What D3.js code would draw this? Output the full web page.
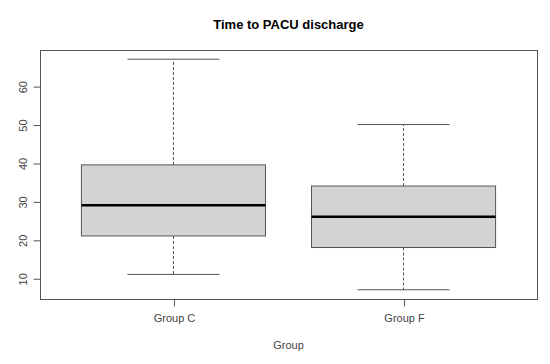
<!DOCTYPE html>
<html>
<head>
<meta charset="utf-8">
<script src="https://cdn.jsdelivr.net/npm/d3@7"></script>
<style>
  body { margin: 0; background: #fff; }
  text { font-family: "Liberation Sans", Arial, sans-serif; }
</style>
</head>
<body>
<div id="chart"></div>
<script>
// boxplot, time to PACU discharge

const width = 550
const height = 364
const margin = { top: 50, right: 13, bottom: 65, left: 40 }

// data
const groups = ['Group C', 'Group F']
const lowerWhisker = [11, 7]
const q1 = [21, 18]
const median = [29, 26]
const q3 = [39.5, 34]
const upperWhisker = [67, 50]
const yTicks = [10, 20, 30, 40, 50, 60]

const boxes = groups.map((g, i) => ({
  name: g,
  pos: i + 1,
  lo: lowerWhisker[i],
  q1: q1[i],
  med: median[i],
  q3: q3[i],
  hi: upperWhisker[i]
}))

const svg = d3.select('#chart').append('svg')
  .attr('width', width)
  .attr('height', height)

const x0 = margin.left
const x1 = width - margin.right
const y0 = height - margin.bottom
const y1 = margin.top

// R style 4% extension of the range
const ymin = d3.min(lowerWhisker)
const ymax = d3.max(upperWhisker)
const ext = (ymax - ymin) * 0.04
const y = d3.scaleLinear().domain([ymin - ext, ymax + ext]).range([y0, y1])
const x = d3.scaleLinear().domain([0.42, 2.58]).range([x0, x1])

const boxW = x(1.4) - x(1) // half of box width
const capW = boxW / 2

const axisColor = '#555'

const g = svg.append('g')

// whiskers
g.selectAll('line.whisk-up')
  .data(boxes)
  .join('line')
  .attr('x1', d => x(d.pos)).attr('x2', d => x(d.pos))
  .attr('y1', d => y(d.q3)).attr('y2', d => y(d.hi))
  .attr('stroke', '#555').attr('stroke-dasharray', '3,2')
g.selectAll('line.whisk-dn')
  .data(boxes)
  .join('line')
  .attr('x1', d => x(d.pos)).attr('x2', d => x(d.pos))
  .attr('y1', d => y(d.q1)).attr('y2', d => y(d.lo))
  .attr('stroke', '#555').attr('stroke-dasharray', '3,2')

// caps
g.selectAll('line.cap-hi')
  .data(boxes)
  .join('line')
  .attr('x1', d => x(d.pos) - capW).attr('x2', d => x(d.pos) + capW)
  .attr('y1', d => y(d.hi)).attr('y2', d => y(d.hi))
  .attr('stroke', '#555')
g.selectAll('line.cap-lo')
  .data(boxes)
  .join('line')
  .attr('x1', d => x(d.pos) - capW).attr('x2', d => x(d.pos) + capW)
  .attr('y1', d => y(d.lo)).attr('y2', d => y(d.lo))
  .attr('stroke', '#555')

// boxes
g.selectAll('rect.box')
  .data(boxes)
  .join('rect')
  .attr('x', d => x(d.pos) - boxW)
  .attr('width', boxW * 2)
  .attr('y', d => y(d.q3))
  .attr('height', d => y(d.q1) - y(d.q3))
  .attr('fill', '#d3d3d3')
  .attr('stroke', '#555')

// medians
g.selectAll('line.med')
  .data(boxes)
  .join('line')
  .attr('x1', d => x(d.pos) - boxW).attr('x2', d => x(d.pos) + boxW)
  .attr('y1', d => y(d.med)).attr('y2', d => y(d.med))
  .attr('stroke', '#000').attr('stroke-width', 2.5)

// frame
svg.append('rect')
  .attr('x', x0 + 0.5).attr('y', y1 + 0.5)
  .attr('width', x1 - x0).attr('height', y0 - y1)
  .attr('fill', 'none').attr('stroke', axisColor)

// y axis
const yAxis = svg.append('g')
  .attr('transform', 'translate(' + (x0 + 0.5) + ',0.5)')
  .call(d3.axisLeft(y).tickValues(yTicks).tickSize(7).tickPadding(5))
yAxis.select('.domain')
  .attr('d', 'M0,' + y(yTicks[0]) + 'V' + y(yTicks[yTicks.length - 1]))
yAxis.selectAll('line, path').attr('stroke', axisColor)
yAxis.selectAll('text')
  .attr('fill', '#444')
  .style('font-size', '11px')
  .attr('text-anchor', 'middle')
  .attr('transform', 'rotate(-90)')
  .attr('x', 0)
  .attr('y', -14)
  .attr('dy', '0')

// x axis
const xAxis = svg.append('g')
  .attr('transform', 'translate(0.5,' + (y0 + 0.5) + ')')
  .call(d3.axisBottom(x).tickValues([1, 2]).tickFormat((d, i) => groups[i]).tickSize(7).tickPadding(8))
xAxis.select('.domain').remove()
xAxis.selectAll('line').attr('stroke', axisColor)
xAxis.selectAll('text').attr('fill', '#444').style('font-size', '11px')

// title and axis label
svg.append('text')
  .attr('x', (x0 + x1) / 2).attr('y', 29)
  .attr('text-anchor', 'middle')
  .style('font-size', '13px').style('font-weight', 'bold')
  .attr('fill', '#000')
  .text('Time to PACU discharge')

svg.append('text')
  .attr('x', (x0 + x1) / 2).attr('y', 349)
  .attr('text-anchor', 'middle')
  .style('font-size', '11px')
  .attr('fill', '#444')
  .text('Group')
</script>
</body>
</html>
